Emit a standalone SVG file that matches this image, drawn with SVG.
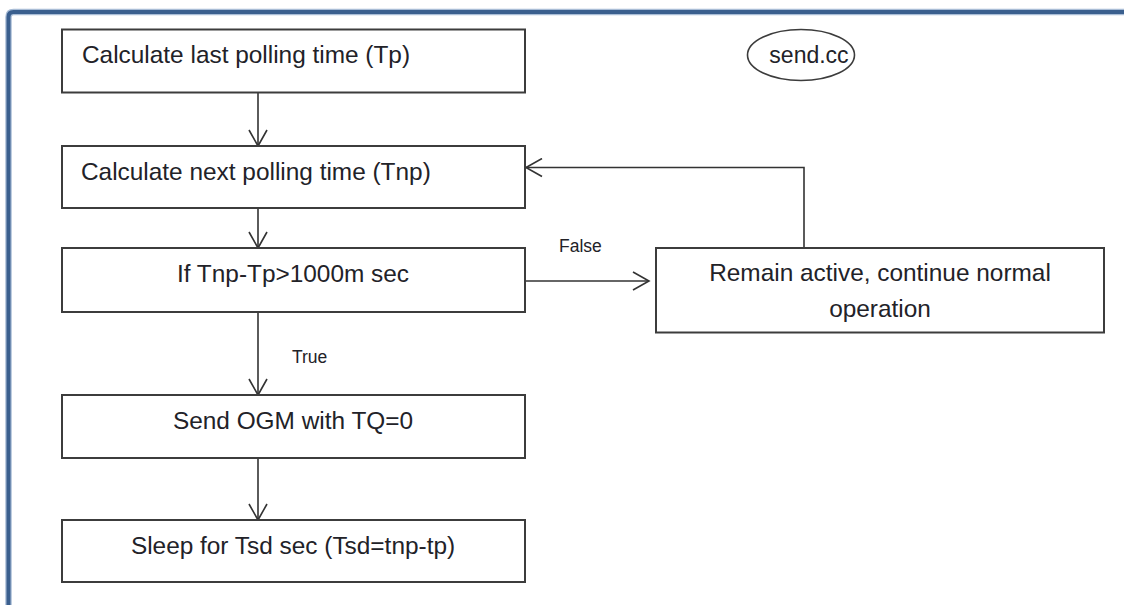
<svg xmlns="http://www.w3.org/2000/svg" width="1124" height="605" viewBox="0 0 1124 605">
<defs>
<style>
.box{fill:#ffffff;stroke:#3c3c3c;stroke-width:2}
.t{font-family:"Liberation Sans",Arial,sans-serif;font-size:24.4px;fill:#222228}
.c{text-anchor:middle}
.lbl{font-family:"Liberation Sans",Arial,sans-serif;font-size:17.5px;fill:#222228}
.ln{fill:none;stroke:#333333;stroke-width:1.6}
</style>
<marker id="ah" viewBox="0 0 20 20" refX="17" refY="10" markerWidth="20" markerHeight="20" markerUnits="userSpaceOnUse" orient="auto">
<path d="M1,1 L17,10 L1,19" fill="none" stroke="#333333" stroke-width="1.6"/>
</marker>
</defs>
<rect width="1124" height="605" fill="#ffffff"/>
<g id="frame">
<path d="M8.5,605 L8.5,17 Q8.5,12 13.5,12 L1124,12" fill="none" stroke="#a9bdd6" stroke-width="6.5"/>
<path d="M8.5,605 L8.5,17 Q8.5,12 13.5,12 L1124,12" fill="none" stroke="#3a5f8e" stroke-width="4"/>
</g>
<g id="connectors">
<line class="ln" x1="258" y1="92" x2="258" y2="146" marker-end="url(#ah)"/>
<line class="ln" x1="258" y1="208" x2="258" y2="248" marker-end="url(#ah)"/>
<line class="ln" x1="258" y1="312" x2="258" y2="395" marker-end="url(#ah)"/>
<line class="ln" x1="258" y1="458" x2="258" y2="520" marker-end="url(#ah)"/>
<line class="ln" x1="525" y1="281" x2="649" y2="281" marker-end="url(#ah)"/>
<polyline class="ln" points="804,248 804,167.5 526,167.5" marker-end="url(#ah)"/>
<text class="lbl" x="559" y="252">False</text>
<text class="lbl" x="292" y="363">True</text>
</g>
<g id="node-last">
<rect class="box" x="62" y="29.5" width="463" height="63"/>
<text class="t" x="82" y="63">Calculate last polling time (Tp)</text>
</g>
<g id="node-next">
<rect class="box" x="62" y="146" width="463" height="62"/>
<text class="t" x="81" y="179.5">Calculate next polling time (Tnp)</text>
</g>
<g id="node-if">
<rect class="box" x="62" y="248" width="463" height="64"/>
<text class="t c" x="293" y="282">If Tnp-Tp&gt;1000m sec</text>
</g>
<g id="node-remain">
<rect class="box" x="656" y="248" width="448" height="84.5"/>
<text class="t c" x="880" y="281">Remain active, continue normal</text>
<text class="t c" x="880" y="317">operation</text>
</g>
<g id="node-send">
<rect class="box" x="62" y="395" width="463" height="63"/>
<text class="t c" x="293" y="429">Send OGM with TQ=0</text>
</g>
<g id="node-sleep">
<rect class="box" x="62" y="520" width="463" height="62"/>
<text class="t c" x="293" y="553.5">Sleep for Tsd sec (Tsd=tnp-tp)</text>
</g>
<g id="node-sendcc">
<ellipse cx="801" cy="55" rx="53.5" ry="25.5" fill="#ffffff" stroke="#3c3c3c" stroke-width="1.6"/>
<text x="809" y="63" text-anchor="middle" font-family="Liberation Sans, Arial, sans-serif" font-size="23px" fill="#222228">send.cc</text>
</g>
</svg>
